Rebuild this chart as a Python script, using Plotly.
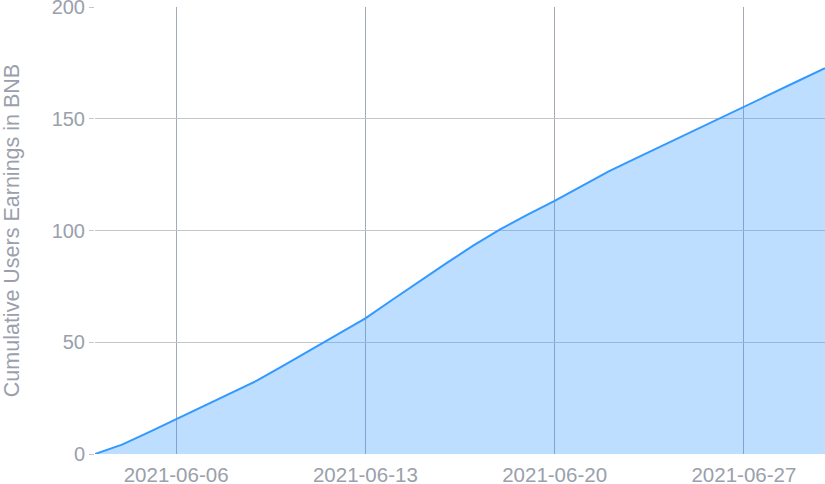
import plotly.graph_objects as go

dates = ["2021-06-03", "2021-06-04", "2021-06-05", "2021-06-06", "2021-06-07", "2021-06-08",
         "2021-06-09", "2021-06-10", "2021-06-11", "2021-06-12", "2021-06-13", "2021-06-14",
         "2021-06-15", "2021-06-16", "2021-06-17", "2021-06-18", "2021-06-19", "2021-06-20",
         "2021-06-21", "2021-06-22", "2021-06-23", "2021-06-24", "2021-06-25", "2021-06-26",
         "2021-06-27", "2021-06-28", "2021-06-29", "2021-06-30"]
earnings = [0, 4.2, 9.8, 15.5, 21.3, 27.1, 32.9, 39.8, 46.8, 53.7, 60.7, 69.0,
            77.3, 85.4, 93.3, 100.6, 107.1, 113.3, 119.9, 126.5, 132.3, 138.0,
            143.8, 149.6, 155.4, 161.1, 166.9, 172.6]
x_ticks = ["2021-06-06", "2021-06-13", "2021-06-20", "2021-06-27"]
y_ticks = [0, 50, 100, 150, 200]

fig = go.Figure()
fig.add_trace(go.Scatter(
    x=dates, y=earnings, mode="lines",
    line=dict(color="#3399ff", width=2),
    fill="tozeroy", fillcolor="rgba(51,153,255,0.32)",
    hoverinfo="x+y", showlegend=False,
))

font_color = "#9aa0ac"
fig.update_layout(
    width=825, height=484,
    margin=dict(l=95, r=0, t=7, b=30),
    paper_bgcolor="white", plot_bgcolor="white",
    font=dict(family="Liberation Sans, Arial, sans-serif", size=21, color=font_color),
    xaxis=dict(
        range=["2021-06-03", "2021-06-30"],
        tickvals=x_ticks, ticktext=x_ticks,
        showgrid=True, gridcolor="#a3aab8", gridwidth=1,
        showline=False, zeroline=False, ticks="",
        ticklabelstandoff=6, automargin=False,
        tickfont=dict(size=20.5, color=font_color),
    ),
    yaxis=dict(
        range=[0, 200], tickvals=y_ticks,
        showgrid=True, gridcolor="#c4c6ca", gridwidth=1,
        zeroline=False, showline=False, automargin=False,
        ticks="outside", ticklen=5, tickcolor="#c4c6ca",
        ticklabeloverflow="allow",
        tickfont=dict(size=20, color=font_color),
        title=dict(text="Cumulative Users Earnings in BNB", standoff=28,
                   font=dict(size=21.5, color=font_color)),
    ),
)

fig.write_html("out.html", config={"displayModeBar": False},
               post_script="document.body.style.margin='0';")
